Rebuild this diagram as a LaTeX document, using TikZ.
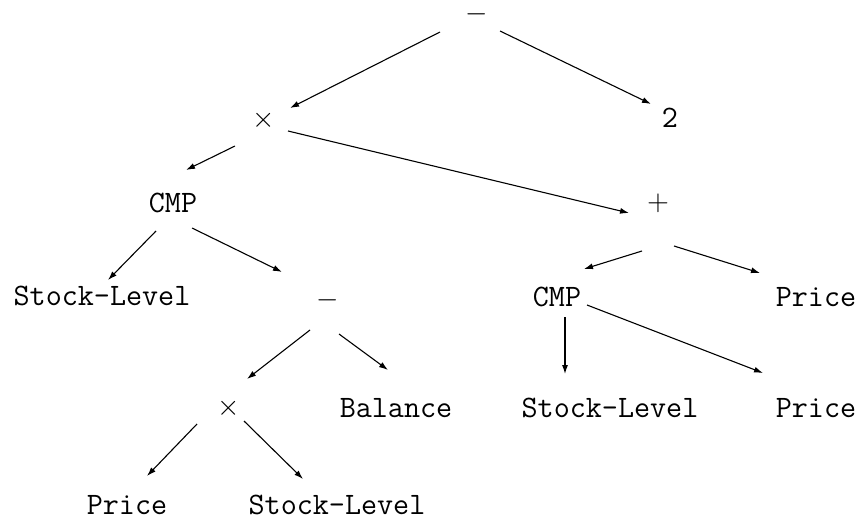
\documentclass[tikz,border=0pt]{standalone}
\usetikzlibrary{arrows.meta}
\begin{document}
\begin{tikzpicture}[x=0.5pt,y=-0.5pt,
  lbl/.style={inner sep=0pt,font=\fontsize{15.6}{18}\selectfont\ttfamily},
  op/.style={inner sep=0pt,font=\fontsize{15.6}{18}\selectfont},
  arr/.style={line width=0.55pt,-{Latex[length=4.5pt,width=3pt]}}]
\useasboundingbox (0,0) rectangle (861,524);
% operators and leaves
\node[op]  (m1)    at (477,14)  {$-$};
\node[op]  (t1)    at (264,120) {$\times$};
\node[lbl] (two)   at (670,118) {2};
\node[lbl] (cmp1)  at (173,203) {CMP};
\node[op]  (plus)  at (658,203) {$+$};
\node[lbl] (sl1)   at (102,296) {Stock-Level};
\node[op]  (m2)    at (328,300) {$-$};
\node[lbl] (cmp2)  at (557,297) {CMP};
\node[lbl] (pr1)   at (816,297) {Price};
\node[op]  (t2)    at (229,408) {$\times$};
\node[lbl] (bal)   at (396,408) {Balance};
\node[lbl] (sl2)   at (610,408) {Stock-Level};
\node[lbl] (pr3)   at (127,505) {Price};
\node[lbl] (pr2)   at (816,408) {Price};
\node[lbl] (sl3)   at (337,505) {Stock-Level};
% edges, each drawn between offsets from the two node centres
\draw[arr] ([shift={(-37,18)}]m1.center)   -- ([shift={(26,-12)}]t1.center);
\draw[arr] ([shift={(23,17)}]m1.center)    -- ([shift={(-19,-14)}]two.center);
\draw[arr] ([shift={(-29,26)}]t1.center)   -- ([shift={(13,-33)}]cmp1.center);
\draw[arr] ([shift={(24,11)}]t1.center)    -- ([shift={(-29,10)}]plus.center);
\draw[arr] ([shift={(-17,28)}]cmp1.center) -- ([shift={(6,-16)}]sl1.center);
\draw[arr] ([shift={(19,25)}]cmp1.center)  -- ([shift={(-46,-28)}]m2.center);
\draw[arr] ([shift={(-16,48)}]plus.center) -- ([shift={(27,-28)}]cmp2.center);
\draw[arr] ([shift={(16,43)}]plus.center)  -- ([shift={(-56,-24)}]pr1.center);
\draw[arr] ([shift={(8,20)}]cmp2.center)   -- ([shift={(-45,-34)}]sl2.center);
\draw[arr] ([shift={(30,8)}]cmp2.center)   -- ([shift={(-53,-35)}]pr2.center);
\draw[arr] ([shift={(-18,30)}]m2.center)   -- ([shift={(18,-29)}]t2.center);
\draw[arr] ([shift={(11,34)}]m2.center)    -- ([shift={(-8,-38)}]bal.center);
\draw[arr] ([shift={(-32,16)}]t2.center)   -- ([shift={(20,-29)}]pr3.center);
\draw[arr] ([shift={(15,13)}]t2.center)    -- ([shift={(-34,-26)}]sl3.center);
\end{tikzpicture}
\end{document}
